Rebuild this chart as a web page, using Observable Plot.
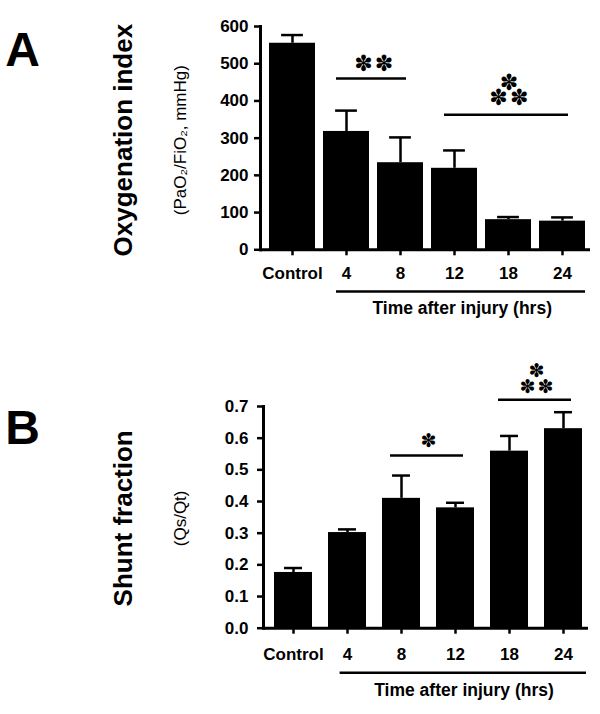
<!DOCTYPE html>
<html>
<head>
<meta charset="utf-8">
<script src="https://cdn.jsdelivr.net/npm/d3@7"></script>
<script src="https://cdn.jsdelivr.net/npm/@observablehq/plot@0.6"></script>
<style>
  html, body { margin: 0; padding: 0; background: #fff; }
  #chart { width: 600px; height: 714px; }
  #chart svg { display: block; }
</style>
</head>
<body>
<div id="chart"></div>
<script>
// ---- data ----
const categories = ["Control", "4", "8", "12", "18", "24"];
const oxygenationIndex = [555, 318, 234, 219, 81, 77];
const oxygenationErr = [22, 56, 68, 48, 7, 10];
const shuntFraction = [0.176, 0.302, 0.41, 0.38, 0.559, 0.63];
const shuntErr = [0.014, 0.010, 0.072, 0.016, 0.048, 0.052];
const yTicksA = [0, 100, 200, 300, 400, 500, 600];
const yTicksB = [0, 0.1, 0.2, 0.3, 0.4, 0.5, 0.6, 0.7];
// significance brackets: rows of asterisks (bottom row, optional top row)
const sigA = [
  {from: "4", to: "8", y: 460, bottom: "✽\u200a✽", top: null},
  {from: "12", to: "24", y: 363, bottom: "✽\u200a✽", top: "✽"}
];
const sigB = [
  {from: "8", to: "12", y: 0.545, bottom: "✽", top: null},
  {from: "18", to: "24", y: 0.721, bottom: "✽\u200a✽", top: "✽"}
];
const groupSpan = [{from: "4", to: "24"}];

const FONT = "Liberation Sans, Arial, Helvetica, sans-serif";
const STAR_FONT = "DejaVu Sans, sans-serif";

function panel(cfg) {
  const data = categories.map((c, i) => ({cat: c, value: cfg.values[i], err: cfg.errs[i]}));
  const n = categories.length;
  const frameW = cfg.width - cfg.marginLeft - cfg.marginRight;
  const step = frameW / (n - cfg.paddingInner + 2 * cfg.paddingOuter);
  const bw = step * (1 - cfg.paddingInner);
  const starMarks = [];
  cfg.sig.forEach((s, k) => {
    const dx = (categories.indexOf(s.to) - categories.indexOf(s.from)) * step / 2;
    starMarks.push(Plot.text([s], {x: "from", y: "y", text: "bottom", dx, dy: cfg.starDyBottom[k],
      lineAnchor: "middle", fontSize: cfg.starSize, fontFamily: STAR_FONT, fill: "black"}));
    if (s.top) starMarks.push(Plot.text([s], {x: "from", y: "y", text: "top", dx, dy: cfg.starDyTop[k],
      lineAnchor: "middle", fontSize: cfg.starSize, fontFamily: STAR_FONT, fill: "black"}));
  });
  return Plot.plot({
    width: cfg.width,
    height: cfg.height,
    marginTop: cfg.marginTop,
    marginBottom: cfg.marginBottom,
    marginLeft: cfg.marginLeft,
    marginRight: cfg.marginRight,
    style: {fontFamily: FONT, color: "black", background: "white", overflow: "visible"},
    x: {domain: categories, paddingInner: cfg.paddingInner, paddingOuter: cfg.paddingOuter, align: 0.667, axis: null},
    y: {domain: cfg.domain, axis: null},
    marks: [
      Plot.barY(data, {x: "cat", y: "value", fill: "black"}),
      Plot.ruleX(data, {x: "cat", y1: "value", y2: d => d.value + d.err, stroke: "black", strokeWidth: 2.5}),
      Plot.tickY(data, {x: "cat", y: d => d.value + d.err, stroke: "black", strokeWidth: 2.5,
        insetLeft: (bw - cfg.capW) / 2, insetRight: (bw - cfg.capW) / 2}),
      Plot.axisY({ticks: cfg.yTicks, tickFormat: cfg.tickFormat, tickSize: 6, tickPadding: cfg.yPad,
        fontSize: 17, fontWeight: "bold", strokeWidth: 2.5, label: null}),
      Plot.axisX({tickSize: 6, tickPadding: cfg.xPad, fontSize: 17, fontWeight: "bold", strokeWidth: 2.5, label: null}),
      Plot.ruleY([cfg.domain[0]], {stroke: "black", strokeWidth: 3}),
      Plot.frame({anchor: "left", stroke: "black", strokeWidth: 3}),
      // significance lines and stars
      Plot.ruleY(cfg.sig, {y: "y", x1: "from", x2: "to", insetLeft: cfg.sigInsetL, insetRight: cfg.sigInsetR,
        stroke: "black", strokeWidth: 2.5}),
      ...starMarks,
      // group underline for time points
      Plot.ruleY(groupSpan, {y: () => cfg.domain[0], x1: "from", x2: "to", dy: cfg.underDy,
        insetLeft: cfg.underInsetL, insetRight: cfg.underInsetR, stroke: "black", strokeWidth: 2.5}),
      Plot.text(["Time after injury (hrs)"], {frameAnchor: "bottom", textAnchor: "middle", lineAnchor: "middle",
        dx: cfg.xTitleDx, dy: cfg.xTitleDy, fontSize: 17.5, fontWeight: "bold", fill: "black"}),
      // y titles
      Plot.text([cfg.title], {frameAnchor: "left", textAnchor: "middle", lineAnchor: "middle", rotate: -90,
        dx: cfg.titleDx, dy: cfg.titleDy, fontSize: 26, fontWeight: "bold", fill: "black"}),
      Plot.text([cfg.subtitle], {frameAnchor: "left", textAnchor: "middle", lineAnchor: "middle", rotate: -90,
        dx: cfg.subDx, dy: cfg.titleDy, fontSize: 17, fill: "black"}),
      // panel letter
      Plot.text([cfg.letter], {frameAnchor: "top-left", textAnchor: "middle", lineAnchor: "middle",
        dx: cfg.letterDx, dy: cfg.letterDy, fontSize: 48, fontWeight: "bold", fill: "black"})
    ]
  });
}

const chart = document.getElementById("chart");
chart.append(panel({
  values: oxygenationIndex, errs: oxygenationErr, domain: [0, 600], yTicks: yTicksA,
  tickFormat: d3.format("d"), sig: sigA, starSize: 22,
  width: 600, height: 325, marginTop: 26, marginBottom: 75.7, marginLeft: 260, marginRight: 10,
  paddingInner: 0.15, paddingOuter: 0.11, capW: 22, yPad: 6, xPad: 11.5,
  sigInsetL: 13, sigInsetR: 17, starDyBottom: [-14.8, -16.5], starDyTop: [0, -31.5],
  underDy: 41.7, underInsetL: 13, underInsetR: 0, xTitleDx: 36.7, xTitleDy: 58.7,
  title: "Oxygenation index", subtitle: "(PaO₂/FiO₂, mmHg)", titleDx: -137, subDx: -80, titleDy: 2,
  letter: "A", letterDx: -238, letterDy: 24
}));
chart.append(panel({
  values: shuntFraction, errs: shuntErr, domain: [0, 0.7], yTicks: yTicksB,
  tickFormat: d3.format(".1f"), sig: sigB, starSize: 19,
  width: 600, height: 389, marginTop: 81, marginBottom: 86.3, marginLeft: 263, marginRight: 12,
  paddingInner: 0.3, paddingOuter: 0.138, capW: 18, yPad: 9, xPad: 14,
  sigInsetL: 8, sigInsetR: 11, starDyBottom: [-15, -13.3], starDyTop: [0, -29],
  underDy: 44.6, underInsetL: 11.6, underInsetR: -4, xTitleDx: 38, xTitleDy: 62.3,
  title: "Shunt fraction", subtitle: "(Qs/Qt)", titleDx: -140, subDx: -83, titleDy: 1,
  letter: "B", letterDx: -241, letterDy: 22
}));
</script>
</body>
</html>
